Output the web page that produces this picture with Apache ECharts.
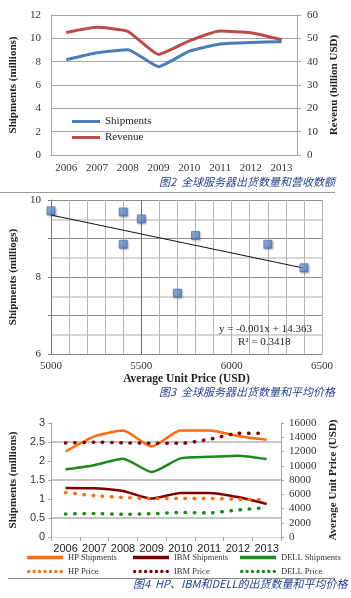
<!DOCTYPE html>
<html>
<head>
<meta charset="utf-8">
<script src="https://cdn.jsdelivr.net/npm/echarts@6/dist/echarts.min.js"></script>
<style>
html,body{margin:0;padding:0;background:#fff;}
#c{width:351px;height:598px;}
</style>
</head>
<body>
<div id="c"></div>
<script>
// ---- Chart 1: global server shipments & revenue ----
const years = ['2006','2007','2008','2009','2010','2011','2012','2013'];
const shipments = [8.17, 8.77, 9.03, 7.57, 8.9, 9.52, 9.65, 9.7];
const revenue = [52.5, 54.7, 53.0, 43.1, 48.9, 53.1, 52.4, 49.4];
const leftTicks1 = [0, 12, 2];
const rightTicks1 = [0, 60, 10];

// ---- Chart 2: shipments vs average unit price ----
const priceX = [5000, 5400, 5500, 5400, 5800, 5700, 6200, 6400];
const shipY = [9.72, 9.69, 9.51, 8.85, 9.08, 7.58, 8.85, 8.24];
const trendX = [5000, 6400];
const trendY = [9.61, 8.23];
const xTicks2 = [5000, 6500, 100];
const yTicks2 = [6, 10, 1];

// ---- Chart 3: HP, IBM, DELL shipments & prices ----
const hpShip = [2.25, 2.65, 2.8, 2.38, 2.8, 2.8, 2.66, 2.56];
const ibmShip = [1.29, 1.28, 1.21, 1.01, 1.16, 1.16, 1.05, 0.87];
const dellShip = [1.78, 1.89, 2.06, 1.71, 2.07, 2.11, 2.14, 2.05];
const hpPrice = [6250, 5800, 5550, 5400, 5400, 5400, 5300, 5230];
const ibmPrice = [13200, 13300, 13230, 13150, 13150, 13700, 14550, 14580];
const dellPrice = [3220, 3300, 3200, 3260, 3450, 3380, 3800, 4120];
const leftTicks3 = [0, 3, 0.5];
const rightTicks3 = [0, 16000, 2000];

const SERIF = '"Liberation Serif","DejaVu Serif",serif';
const SANS = '"Liberation Sans","DejaVu Sans",sans-serif';
const CJK = '"Noto Sans CJK SC",sans-serif';
const capColor = '#27408e';
const gridGray = '#a6a6a6';

const chart = echarts.init(document.getElementById('c'), null, {renderer: 'canvas'});

const x2Colors = [];
for (let v = xTicks2[0]; v <= xTicks2[1]; v += xTicks2[2]) {
  x2Colors.push(v === 5500 ? '#6e6e6e' : '#b4b4b4');
}

// dotted legend sample icon: a row of small dots
let dotPath = 'path://';
for (let i = 0; i < 7; i++) {
  const cx = 1.8 + i * 5.4;
  dotPath += 'M' + (cx - 1.7) + ',2 a1.7,1.7 0 1,0 3.4,0 a1.7,1.7 0 1,0 -3.4,0 ';
}

const dotted = {width: 3.5, type: [0.5, 8.7], cap: 'round'};
const legText3 = {fontFamily: SERIF, fontSize: 8.5, color: '#333'};

function legend3(names, left) {
  return {
    data: [{name: names[0], icon: 'rect'}, {name: names[1], icon: dotPath}],
    orient: 'vertical', left: left, top: 553, padding: 0,
    itemWidth: 36, itemHeight: 3.5, itemGap: 5, itemTextGap: 2,
    textStyle: legText3
  };
}

const option = {
  animation: false,
  backgroundColor: '#fff',
  grid: [
    {left: 47, top: 15, width: 250, height: 140},
    {left: 29, top: 200, width: 293, height: 154},
    {left: 47, top: 423, width: 234, height: 114}
  ],
  legend: [
    {
      data: ['Shipments', 'Revenue'], orient: 'vertical', left: 72, top: 116, padding: 0,
      icon: 'rect', itemWidth: 28, itemHeight: 3, itemGap: 5, itemTextGap: 1,
      textStyle: {fontFamily: SERIF, fontSize: 11, color: '#222'}
    },
    legend3(['HP Shipments', 'HP Price'], 27),
    legend3(['IBM Shipments', 'IBM Price'], 133),
    legend3(['DELL Shipments', 'DELL Price'], 240)
  ],
  xAxis: [
    {
      gridIndex: 0, type: 'category', data: years, boundaryGap: true,
      axisLine: {lineStyle: {color: gridGray}}, axisTick: {show: false},
      axisLabel: {fontFamily: SERIF, fontSize: 11, color: '#333', margin: 8, interval: 0},
      splitLine: {show: false}
    },
    {
      gridIndex: 1, type: 'value', min: xTicks2[0], max: xTicks2[1], interval: xTicks2[2],
      axisLine: {lineStyle: {color: '#888'}}, axisTick: {show: false},
      axisLabel: {fontFamily: SERIF, fontSize: 11, color: '#333', margin: 7,
        formatter: v => (v % 500 === 0 ? String(v) : '')},
      splitLine: {show: true, lineStyle: {color: x2Colors, width: 1}},
      name: 'Average Unit Price (USD)', nameLocation: 'middle', nameGap: 19,
      nameTextStyle: {fontFamily: SERIF, fontSize: 11.5, fontWeight: 'bold', color: '#222'}
    },
    {
      gridIndex: 2, type: 'category', data: years, boundaryGap: true,
      axisLine: {lineStyle: {color: gridGray}},
      axisTick: {show: true, length: 4, lineStyle: {color: gridGray}},
      axisLabel: {fontFamily: SANS, fontSize: 11, color: '#222', margin: 6, interval: 0},
      splitLine: {show: false}
    },
    {
      gridIndex: 2, type: 'category', data: years, position: 'top',
      axisLine: {lineStyle: {color: '#d9d9d9'}}, axisTick: {show: false},
      axisLabel: {show: false}, splitLine: {show: false}
    }
  ],
  yAxis: [
    {
      gridIndex: 0, type: 'value', position: 'left',
      min: leftTicks1[0], max: leftTicks1[1], interval: leftTicks1[2],
      axisLine: {show: true, lineStyle: {color: gridGray}}, axisTick: {show: false},
      axisLabel: {fontFamily: SERIF, fontSize: 11, color: '#333', margin: 10},
      splitLine: {show: true, lineStyle: {color: gridGray, width: 1}},
      name: 'Shipments (millions)', nameLocation: 'middle', nameGap: 25, nameRotate: 90,
      nameTextStyle: {fontFamily: SERIF, fontSize: 11, fontWeight: 'bold', color: '#222'}
    },
    {
      gridIndex: 0, type: 'value', position: 'right',
      min: rightTicks1[0], max: rightTicks1[1], interval: rightTicks1[2],
      axisLine: {show: true, lineStyle: {color: gridGray}},
      axisTick: {show: true, length: 4, lineStyle: {color: gridGray}},
      axisLabel: {fontFamily: SERIF, fontSize: 11, color: '#333', margin: 10},
      splitLine: {show: false},
      name: 'Revenu (billion USD)', nameLocation: 'middle', nameGap: 27, nameRotate: 90,
      nameTextStyle: {fontFamily: SERIF, fontSize: 11, fontWeight: 'bold', color: '#222'}
    },
    {
      gridIndex: 1, type: 'value', position: 'left',
      min: yTicks2[0], max: yTicks2[1], interval: yTicks2[2],
      axisLine: {show: true, lineStyle: {color: '#777'}},
      axisTick: {show: true, length: 3, lineStyle: {color: '#777'}},
      axisLabel: {fontFamily: SERIF, fontSize: 11, color: '#333', margin: 10,
        formatter: v => (v === 10 || v === 6 || v === 8 ? String(v) : '')},
      splitLine: {show: true, lineStyle: {color: '#8c8c8c', width: 1}},
      name: 'Shipments (milliogs)', nameLocation: 'middle', nameGap: 11, nameRotate: 90,
      nameTextStyle: {fontFamily: SERIF, fontSize: 11, fontWeight: 'bold', color: '#222'}
    },
    {
      gridIndex: 1, type: 'value', position: 'left',
      min: yTicks2[0], max: yTicks2[1], interval: yTicks2[2] / 2,
      axisLine: {show: false}, axisTick: {show: false}, axisLabel: {show: false},
      splitLine: {show: true, lineStyle: {color: ['rgba(0,0,0,0)', '#d6d6d6'], width: 2}}
    },
    {
      gridIndex: 2, type: 'value', position: 'left',
      min: leftTicks3[0], max: leftTicks3[1], interval: leftTicks3[2],
      axisLine: {show: true, lineStyle: {color: gridGray}},
      axisTick: {show: true, length: 3, lineStyle: {color: gridGray}},
      axisLabel: {fontFamily: SANS, fontSize: 11, color: '#333', margin: 6},
      splitLine: {show: true, lineStyle: {color: ['rgba(0,0,0,0)', '#b0b0b0'], width: 1.5}},
      name: 'Shipments (millions)', nameLocation: 'middle', nameGap: 27, nameRotate: 90,
      nameTextStyle: {fontFamily: SERIF, fontSize: 11, fontWeight: 'bold', color: '#222'}
    },
    {
      gridIndex: 2, type: 'value', position: 'right',
      min: rightTicks3[0], max: rightTicks3[1], interval: rightTicks3[2],
      axisLine: {show: true, lineStyle: {color: gridGray}},
      axisTick: {show: true, length: 3, lineStyle: {color: gridGray}},
      axisLabel: {fontFamily: SERIF, fontSize: 11, color: '#333', margin: 8,
        formatter: v => String(v)},
      splitLine: {show: false},
      name: 'Average Unit Price (USD)', nameLocation: 'middle', nameGap: 40, nameRotate: 90,
      nameTextStyle: {fontFamily: SERIF, fontSize: 11, fontWeight: 'bold', color: '#222'}
    }
  ],
  series: [
    {name: 'Shipments', type: 'line', xAxisIndex: 0, yAxisIndex: 0, data: shipments,
      smooth: 0.15, symbol: 'none', lineStyle: {width: 3, color: '#4a7ebb'}, itemStyle: {color: '#4a7ebb'}},
    {name: 'Revenue', type: 'line', xAxisIndex: 0, yAxisIndex: 1, data: revenue,
      smooth: 0.15, symbol: 'none', lineStyle: {width: 3, color: '#be4b48'}, itemStyle: {color: '#be4b48'}},
    {name: 'Trend', type: 'line', xAxisIndex: 1, yAxisIndex: 2,
      data: trendX.map((x, i) => [x, trendY[i]]), symbol: 'none',
      lineStyle: {width: 1, color: '#111'}, z: 3},
    {name: 'Points', type: 'scatter', xAxisIndex: 1, yAxisIndex: 2,
      data: priceX.map((x, i) => [x, shipY[i]]), symbol: 'rect', symbolSize: 8,
      itemStyle: {
        color: new echarts.graphic.LinearGradient(0, 0, 1, 1, [
          {offset: 0, color: '#9cc0ef'}, {offset: 1, color: '#3d6fbf'}]),
        borderColor: '#3866ad', borderWidth: 0.8,
        shadowColor: 'rgba(0,0,0,0.35)', shadowBlur: 2, shadowOffsetX: 1, shadowOffsetY: 1
      }, z: 4},
    {name: 'HP Shipments', type: 'line', xAxisIndex: 2, yAxisIndex: 4, data: hpShip,
      smooth: 0.2, symbol: 'none', lineStyle: {width: 2.5, color: '#ff6a0a'}, itemStyle: {color: '#ff6a0a'}},
    {name: 'IBM Shipments', type: 'line', xAxisIndex: 2, yAxisIndex: 4, data: ibmShip,
      smooth: 0.2, symbol: 'none', lineStyle: {width: 2.5, color: '#800000'}, itemStyle: {color: '#800000'}},
    {name: 'DELL Shipments', type: 'line', xAxisIndex: 2, yAxisIndex: 4, data: dellShip,
      smooth: 0.2, symbol: 'none', lineStyle: {width: 2.5, color: '#1b8a1b'}, itemStyle: {color: '#1b8a1b'}},
    {name: 'HP Price', type: 'line', xAxisIndex: 2, yAxisIndex: 5, data: hpPrice,
      smooth: 0.2, symbol: 'none', lineStyle: Object.assign({color: '#ff6a0a'}, dotted), itemStyle: {color: '#ff6a0a'}},
    {name: 'IBM Price', type: 'line', xAxisIndex: 2, yAxisIndex: 5, data: ibmPrice,
      smooth: 0.2, symbol: 'none', lineStyle: Object.assign({color: '#800000'}, dotted), itemStyle: {color: '#800000'}},
    {name: 'DELL Price', type: 'line', xAxisIndex: 2, yAxisIndex: 5, data: dellPrice,
      smooth: 0.2, symbol: 'none', lineStyle: Object.assign({color: '#1b8a1b'}, dotted), itemStyle: {color: '#1b8a1b'}}
  ],
  graphic: [
    {type: 'text', left: 159, top: 176, style: {text: '图2  全球服务器出货数量和营收数额',
      font: 'italic 11px ' + CJK, fill: capColor}},
    {type: 'line', shape: {x1: 0, y1: 192.5, x2: 335, y2: 192.5}, style: {stroke: '#9a9a9a', lineWidth: 1}},
    {type: 'text', right: 39, top: 324, style: {text: 'y = -0.001x + 14.363',
      font: '11px ' + SERIF, fill: '#222'}, z: 10},
    {type: 'text', left: 238, top: 337, style: {text: 'R² = 0.3418',
      font: '11px ' + SERIF, fill: '#222'}, z: 10},
    {type: 'text', left: 159, top: 386, style: {text: '图3  全球服务器出货数量和平均价格',
      font: 'italic 11px ' + CJK, fill: capColor}},
    {type: 'line', shape: {x1: 8, y1: 578.5, x2: 335, y2: 578.5}, style: {stroke: '#8a8a8a', lineWidth: 1}},
    {type: 'text', left: 133, top: 578, style: {text: '图4  HP、IBM和DELL的出货数量和平均价格',
      font: 'italic 11px ' + CJK, fill: capColor}}
  ]
};

chart.setOption(option);
</script>
</body>
</html>
